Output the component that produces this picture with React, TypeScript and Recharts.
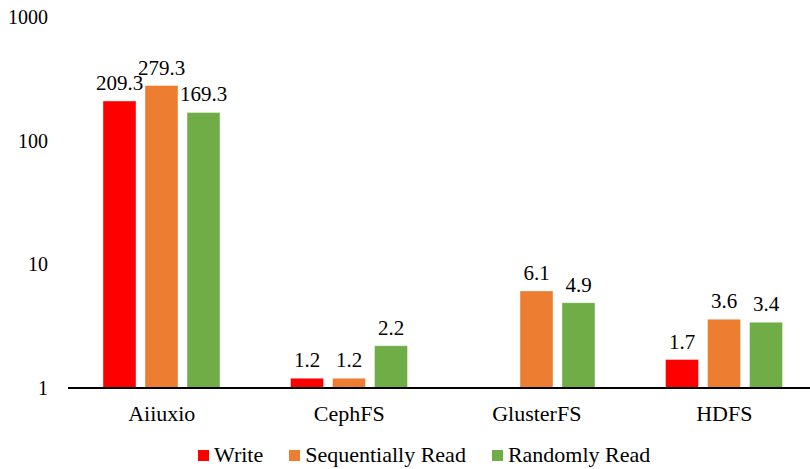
import { Bar, BarChart, LabelList, Legend, XAxis, YAxis } from "recharts";

const systems = ["Aiiuxio", "CephFS", "GlusterFS", "HDFS"];
const writeVals = [209.3, 1.2, null, 1.7];
const seqReadVals = [279.3, 1.2, 6.1, 3.6];
const randReadVals = [169.3, 2.2, 4.9, 3.4];
const yTicks = [1, 10, 100, 1000];

const seriesInfo = [
  { key: "write", name: "Write", color: "#FF0000" },
  { key: "seq", name: "Sequentially Read", color: "#ED7D31" },
  { key: "rand", name: "Randomly Read", color: "#70AD47" },
];

const data = systems.map((s, i) => ({
  name: s,
  write: writeVals[i],
  seq: seqReadVals[i],
  rand: randReadVals[i],
}));

const font = "Liberation Serif";

function LegendBox() {
  return (
    <div style={{ display: "flex", alignItems: "center", height: 36, paddingLeft: 198, fontFamily: font, fontSize: 22, color: "#000" }}>
      {seriesInfo.map((s) => (
        <div key={s.key} style={{ display: "flex", alignItems: "center", marginRight: 26, marginTop: 8 }}>
          <span style={{ width: 11, height: 11, background: s.color, display: "inline-block", marginRight: 5 }} />
          <span>{s.name}</span>
        </div>
      ))}
    </div>
  );
}

const fmt = (v: any) => (v == null ? "" : Number(v).toFixed(1));

export default function App() {
  return (
    <div style={{ position: "fixed", left: 0, top: 0, width: 810, height: 469, overflow: "hidden", background: "#fff", fontFamily: font }}>
      <BarChart width={818} height={469} data={data} margin={{ top: 17, right: 0, bottom: 0, left: 0 }} barSize={33} barGap={9}>
        <XAxis
          dataKey="name"
          tickLine={false}
          tickSize={0}
          tickMargin={17}
          height={45}
          axisLine={{ stroke: "#000", strokeWidth: 2 }}
          tick={{ fill: "#000", fontSize: 22, fontFamily: font }}
        />
        <YAxis
          scale="log"
          domain={[1, 1000]}
          ticks={yTicks}
          allowDataOverflow
          width={68}
          axisLine={false}
          tickLine={false}
          tickSize={0}
          tickMargin={20}
          tick={{ fill: "#000", fontSize: 20, fontFamily: font }}
        />
        <Legend verticalAlign="bottom" content={<LegendBox />} />
        {seriesInfo.map((s) => (
          <Bar key={s.key} dataKey={s.key} name={s.name} fill={s.color} stroke="#ffffff" strokeOpacity={0.4} isAnimationActive={false}>
            <LabelList dataKey={s.key} position="top" offset={11} formatter={fmt} fill="#000" fontSize={21} fontFamily={font} />
          </Bar>
        ))}
      </BarChart>
    </div>
  );
}
